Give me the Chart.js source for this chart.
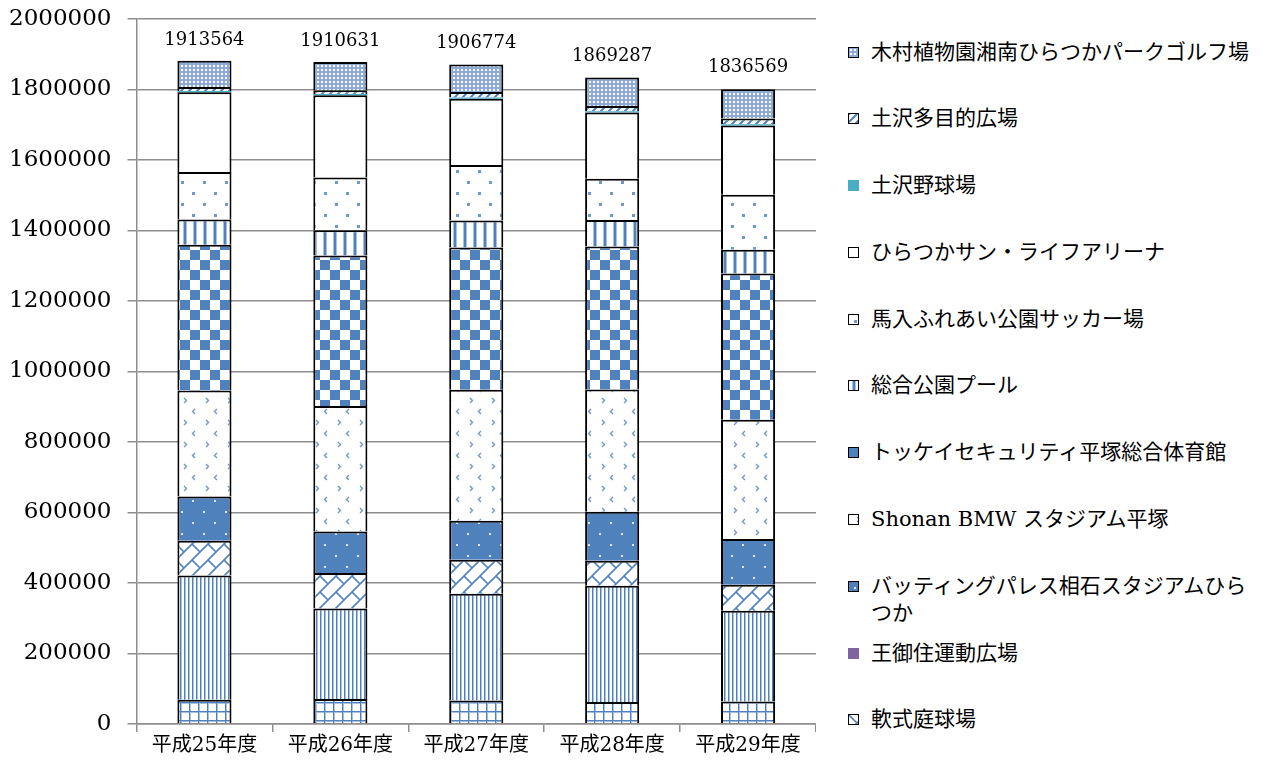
<!DOCTYPE html>
<html>
<head>
<meta charset="utf-8">
<script src="https://cdn.jsdelivr.net/npm/chart.js@4.4.1/dist/chart.umd.min.js"></script>
<style>
  body { margin: 0; background: #fff; }
  #wrap { position: relative; width: 1267px; height: 765px; overflow: hidden; }
  #chartBox { position: absolute; left: 0; top: 0; width: 816px; height: 765px; }
  #legend {
    position: absolute; left: 848px; top: 38.5px; width: 419px;
    font-family: "DejaVu Serif", "Noto Sans CJK JP", serif; font-size: 21px; color: #000;
  }
  .item { height: 66.8px; display: flex; align-items: flex-start; }
  .icon { width: 9px; height: 9px; border: 1.5px solid #000; margin-top: 8px; flex: none; }
  .icon.solid { border: none; width: 11px; height: 11px; }
  .text { margin-left: 12px; line-height: 27px; width: 388px; }
</style>
</head>
<body>
<div id="wrap">
  <div id="chartBox"><canvas id="chart"></canvas></div>
  <div id="legend"></div>
</div>
<script>
// categories and the totals printed above each bar
const categories = ['平成25年度', '平成26年度', '平成27年度', '平成28年度', '平成29年度']
const totalLabels = [1913564, 1910631, 1906774, 1869287, 1836569]

// series, bottom of the stack first (the first two are not shown in the legend)
const bottomSeriesA = [68700, 70600, 66700, 62100, 63800]
const bottomSeriesB = [352600, 257100, 302700, 329900, 257300]
const nanshikiTeikyujo = [98400, 100400, 96400, 71000, 73800]
const omisumiHiroba = [0, 0, 0, 0, 0]
const battingPalace = [125700, 118000, 110700, 139000, 129600]
const shonanBmw = [300700, 355700, 371600, 347000, 338500]
const tokkeiTaiikukan = [413300, 427300, 403700, 405600, 415000]
const sogoPool = [71800, 71400, 76500, 74900, 67200]
const banyuSoccer = [134500, 149900, 157200, 117200, 156100]
const sunLifeArena = [226400, 233100, 188000, 187800, 196700]
const tsuchisawaYakyujo = [3500, 3500, 3500, 3500, 3500]
const tsuchisawaTamokuteki = [11200, 11000, 15600, 14900, 16100]
const kimuraParkGolf = [74600, 79700, 78400, 81300, 83400]

const BLUE = '#4f81bd'
const PALE = '#a9c1e1'
const FONT = '"DejaVu Serif", "Noto Sans CJK JP", serif'

/**
 * Builds a small canvas tile that is used as a repeating fill pattern.
 */
function makeTile (w, h, draw) {
  const c = document.createElement('canvas')
  c.width = w
  c.height = h
  const ctx = c.getContext('2d')
  ctx.fillStyle = '#fff'
  ctx.fillRect(0, 0, w, h)
  draw(ctx, w, h)
  return c
}

const tiles = {
  grid: makeTile(9, 9, (ctx) => {
    ctx.fillStyle = PALE
    ctx.fillRect(0, 1, 9, 1)
    ctx.fillRect(1, 0, 1, 9)
    ctx.fillStyle = BLUE
    ctx.fillRect(0, 0, 9, 1)
    ctx.fillRect(0, 0, 1, 9)
  }),
  narrowVertical: makeTile(4, 1, (ctx) => {
    ctx.fillStyle = BLUE
    ctx.fillRect(0, 0, 1, 1)
    ctx.fillStyle = PALE
    ctx.fillRect(1, 0, 1, 1)
  }),
  brick: makeTile(16, 16, (ctx) => {
    ctx.strokeStyle = BLUE
    ctx.lineWidth = 1.6
    ctx.beginPath()
    ctx.moveTo(-2, 18); ctx.lineTo(18, -2)
    ctx.moveTo(14, 18); ctx.lineTo(18, 14)
    ctx.moveTo(-2, 2); ctx.lineTo(2, -2)
    ctx.moveTo(0, 0); ctx.lineTo(8, 8)
    ctx.moveTo(16, 0); ctx.lineTo(24, 8)
    ctx.moveTo(0, 16); ctx.lineTo(8, 24)
    ctx.stroke()
  }),
  darkDots: makeTile(22, 22, (ctx) => {
    ctx.fillStyle = BLUE
    ctx.fillRect(0, 0, 22, 22)
    ctx.fillStyle = '#dde6f2'
    ctx.fillRect(5, 5, 2, 2)
    ctx.fillRect(16, 16, 2, 2)
  }),
  divot: makeTile(22, 22, (ctx) => {
    ctx.strokeStyle = '#6e97cc'
    ctx.lineWidth = 1.4
    ctx.beginPath()
    ctx.moveTo(8, 2); ctx.lineTo(10.5, 4.5); ctx.lineTo(8, 7)
    ctx.moveTo(19, 13); ctx.lineTo(16.5, 15.5); ctx.lineTo(19, 18)
    ctx.stroke()
  }),
  checker: makeTile(20, 20, (ctx) => {
    ctx.fillStyle = BLUE
    ctx.fillRect(0, 0, 10, 10)
    ctx.fillRect(10, 10, 10, 10)
  }),
  wideVertical: makeTile(10, 1, (ctx) => {
    ctx.fillStyle = PALE
    ctx.fillRect(3, 0, 4, 1)
    ctx.fillStyle = BLUE
    ctx.fillRect(4, 0, 2, 1)
  }),
  dots: makeTile(22, 22, (ctx) => {
    ctx.fillStyle = '#6f98cd'
    ctx.fillRect(5, 5, 3, 3)
    ctx.fillRect(16, 16, 3, 3)
  }),
  upwardDiagonal: makeTile(8, 8, (ctx) => {
    ctx.strokeStyle = BLUE
    ctx.lineWidth = 2
    ctx.beginPath()
    ctx.moveTo(-2, 10); ctx.lineTo(10, -2)
    ctx.moveTo(6, 10); ctx.lineTo(10, 6)
    ctx.moveTo(-2, 2); ctx.lineTo(2, -2)
    ctx.stroke()
  }),
  fineDots: makeTile(4, 4, (ctx) => {
    ctx.fillStyle = '#8eaadb'
    ctx.fillRect(0, 0, 4, 4)
    ctx.fillStyle = '#fff'
    ctx.fillRect(1, 1, 2, 2)
  }),
  white: makeTile(4, 4, () => {})
}

const patternCtx = document.createElement('canvas').getContext('2d')
const fillOf = (tile) => patternCtx.createPattern(tile, 'repeat')

// label, values, fill (tile name or solid colour), shown in legend
const seriesDefs = [
  { label: '', data: bottomSeriesA, tile: 'grid', legend: false },
  { label: '', data: bottomSeriesB, tile: 'narrowVertical', legend: false },
  { label: '軟式庭球場', data: nanshikiTeikyujo, tile: 'brick' },
  { label: '王御住運動広場', data: omisumiHiroba, color: '#8064a2' },
  { label: 'バッティングパレス相石スタジアムひらつか', data: battingPalace, tile: 'darkDots' },
  { label: 'Shonan BMW スタジアム平塚', data: shonanBmw, tile: 'divot' },
  { label: 'トッケイセキュリティ平塚総合体育館', data: tokkeiTaiikukan, tile: 'checker' },
  { label: '総合公園プール', data: sogoPool, tile: 'wideVertical' },
  { label: '馬入ふれあい公園サッカー場', data: banyuSoccer, tile: 'dots' },
  { label: 'ひらつかサン・ライフアリーナ', data: sunLifeArena, tile: 'white' },
  { label: '土沢野球場', data: tsuchisawaYakyujo, color: '#4bacc6' },
  { label: '土沢多目的広場', data: tsuchisawaTamokuteki, tile: 'upwardDiagonal' },
  { label: '木村植物園湘南ひらつかパークゴルフ場', data: kimuraParkGolf, tile: 'fineDots' }
]

const datasets = seriesDefs.map(s => ({
  label: s.label,
  data: s.data,
  backgroundColor: s.tile ? fillOf(tiles[s.tile]) : s.color,
  borderColor: '#000',
  borderWidth: s.tile ? 2 : 0,
  borderSkipped: 'start',
  categoryPercentage: 1,
  barPercentage: 0.398
}))

const totalLabelPlugin = {
  id: 'totalLabels',
  afterDatasetsDraw (chart) {
    const { ctx, scales: { x, y } } = chart
    ctx.save()
    ctx.font = '18px ' + FONT
    ctx.fillStyle = '#000'
    ctx.textAlign = 'center'
    ctx.textBaseline = 'middle'
    totalLabels.forEach((v, i) => {
      ctx.fillText(String(v), x.getPixelForValue(i), y.getPixelForValue(v) - 9)
    })
    ctx.restore()
  }
}

const GRID = '#8e8e8e'

new Chart(document.getElementById('chart'), {
  type: 'bar',
  data: { labels: categories, datasets: datasets },
  plugins: [totalLabelPlugin],
  options: {
    responsive: true,
    maintainAspectRatio: false,
    animation: false,
    layout: { padding: { top: 19, right: 0, bottom: 0, left: 0 } },
    plugins: {
      legend: { display: false },
      tooltip: { enabled: false }
    },
    scales: {
      x: {
        stacked: true,
        grid: { display: true, drawOnChartArea: false, drawTicks: true, tickLength: 8, color: GRID, lineWidth: 1.5, offset: true },
        border: { color: GRID, width: 1.5 },
        ticks: { color: '#000', padding: 2, font: { family: FONT, size: 20 }, maxRotation: 0 },
        afterFit: (scale) => {
          scale.height = 41
          scale.paddingLeft = 0
          scale.paddingRight = 0
        }
      },
      y: {
        stacked: true,
        min: 0,
        max: 2000000,
        grid: { color: GRID, lineWidth: 1.5, tickLength: 9 },
        border: { color: GRID, width: 1.5 },
        ticks: {
          stepSize: 200000,
          color: '#000',
          padding: 16,
          font: { family: FONT, size: 23 },
          callback: (value) => String(value)
        },
        afterFit: (scale) => {
          scale.width = 136.5
          scale.paddingTop = 0
          scale.paddingBottom = 0
        }
      }
    }
  }
})

// legend on the right, last series on top (as in the original)
const legendEl = document.getElementById('legend')
seriesDefs.filter(s => s.legend !== false).reverse().forEach(s => {
  const item = document.createElement('div')
  item.className = 'item'
  const icon = document.createElement('div')
  icon.className = 'icon' + (s.tile ? '' : ' solid')
  if (s.tile) {
    icon.style.backgroundImage = 'url(' + tiles[s.tile].toDataURL() + ')'
  } else {
    icon.style.background = s.color
  }
  const text = document.createElement('div')
  text.className = 'text'
  text.textContent = s.label
  item.appendChild(icon)
  item.appendChild(text)
  legendEl.appendChild(item)
})
</script>
</body>
</html>
